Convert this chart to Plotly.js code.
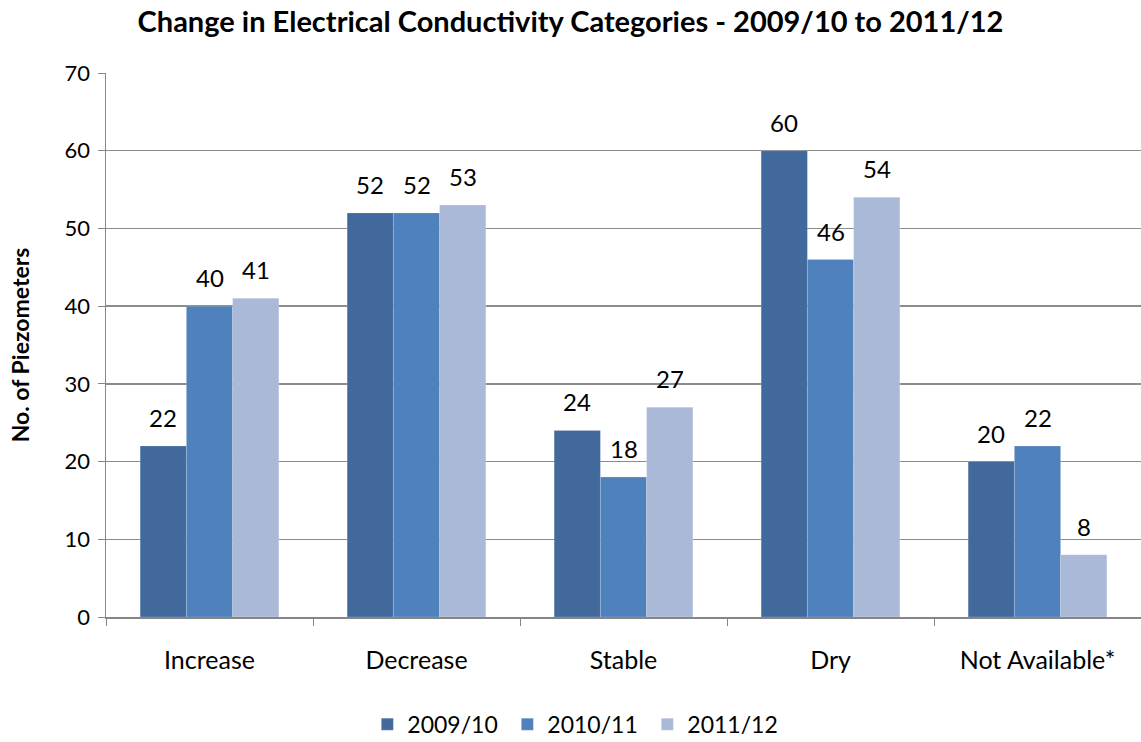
<!DOCTYPE html>
<html>
<head>
<meta charset="utf-8">
<script src="https://cdn.plot.ly/plotly-3.0.1.min.js"></script>
<style>
  html, body { margin: 0; padding: 0; background: #ffffff; }
  #chart { width: 1141px; height: 742px; }
</style>
</head>
<body>
<div id="chart"></div>
<script>
// Piezometer counts per electrical conductivity change category
const categories = ["Increase", "Decrease", "Stable", "Dry", "Not Available*"];
const seriesNames = ["2009/10", "2010/11", "2011/12"];
const values2009 = [22, 52, 24, 60, 20];
const values2010 = [40, 52, 18, 46, 22];
const values2011 = [41, 53, 27, 54, 8];
const yTicks = [0, 10, 20, 30, 40, 50, 60, 70];

const colors = ["#41699C", "#4F81BD", "#AAB9D7"];
const FONT = "Lato, 'Liberation Sans', sans-serif";
const BARGAP = 0.33;

const seriesValues = [values2009, values2010, values2011];
const traces = seriesValues.map((vals, i) => ({
  type: "bar",
  name: seriesNames[i],
  x: categories,
  y: vals,
  marker: { color: colors[i], line: { color: "rgba(255,255,255,0.35)", width: 0.5 } },
  hoverinfo: "x+y+name"
}));

// Value labels above each bar, placed in category units so they sit over their own bar
const barWidth = (1 - BARGAP) / seriesValues.length;
const annotations = [];
seriesValues.forEach((vals, i) => {
  vals.forEach((v, j) => {
    annotations.push({
      xref: "x", yref: "y",
      x: j + (i - (seriesValues.length - 1) / 2) * barWidth,
      y: v,
      text: String(v),
      showarrow: false,
      xanchor: "center",
      yanchor: "bottom",
      yshift: 12,
      font: { family: FONT, size: 24, color: "#000000" }
    });
  });
});

const layout = {
  width: 1141,
  height: 742,
  paper_bgcolor: "#ffffff",
  plot_bgcolor: "#ffffff",
  margin: { l: 106, r: 0, t: 73, b: 125, autoexpand: false },
  font: { family: FONT, size: 20, color: "#000000" },
  title: {
    text: "<b>Change in Electrical Conductivity Categories - 2009/10 to 2011/12</b>",
    font: { family: FONT, size: 29, color: "#000000" },
    x: 0.5, xanchor: "center",
    y: 0.97, yanchor: "middle"
  },
  barmode: "group",
  bargap: BARGAP,
  bargroupgap: 0,
  xaxis: {
    type: "category",
    automargin: false,
    showgrid: false,
    showline: true,
    linecolor: "#868686",
    linewidth: 1.5,
    ticks: "outside",
    tickson: "boundaries",
    ticklen: 7,
    tickcolor: "#868686",
    ticklabelstandoff: 20,
    tickfont: { family: FONT, size: 25, color: "#000000" },
    zeroline: false
  },
  yaxis: {
    range: [0, 70],
    automargin: false,
    tickvals: yTicks,
    showgrid: true,
    gridcolor: "#8C8C8C",
    gridwidth: 1.5,
    showline: true,
    linecolor: "#868686",
    linewidth: 1.5,
    ticks: "outside",
    ticklen: 7,
    tickcolor: "#868686",
    ticklabelstandoff: 3,
    tickfont: { family: FONT, size: 22, color: "#000000" },
    zeroline: false,
    title: {
      text: "<b>No. of Piezometers</b>",
      font: { family: FONT, size: 23, color: "#000000" },
      standoff: 28
    }
  },
  annotations: annotations,
  showlegend: true,
  legend: {
    orientation: "h",
    xref: "container",
    x: 0.506, xanchor: "center",
    yref: "container",
    y: 0.024, yanchor: "middle",
    font: { family: FONT, size: 23, color: "#000000" },
    itemwidth: 30,
    entrywidth: 95,
    tracegroupgap: 0
  }
};

Plotly.newPlot("chart", traces, layout, { displayModeBar: false, staticPlot: true });
</script>
</body>
</html>
